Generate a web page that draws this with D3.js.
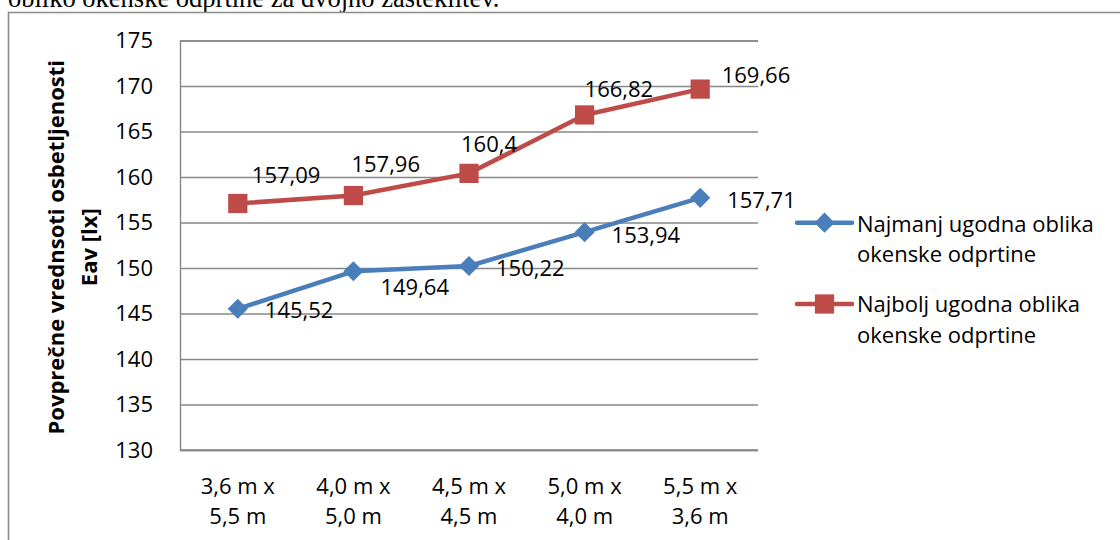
<!DOCTYPE html>
<html>
<head>
<meta charset="utf-8">
<script src="https://cdn.jsdelivr.net/npm/d3@7"></script>
<style>
  html, body { margin: 0; padding: 0; background: #fff; }
  svg { display: block; }
</style>
</head>
<body>
<svg id="chart" width="1120" height="540"></svg>
<script>
// Room dimensions (categories) and average illuminance Eav [lx] per window shape
const categories = [
  ["3,6 m x", "5,5 m"],
  ["4,0 m x", "5,0 m"],
  ["4,5 m x", "4,5 m"],
  ["5,0 m x", "4,0 m"],
  ["5,5 m x", "3,6 m"]
];
const seriesNames = [
  ["Najmanj ugodna oblika", "okenske odprtine"],
  ["Najbolj ugodna oblika", "okenske odprtine"]
];
const leastFavourable = [145.52, 149.64, 150.22, 153.94, 157.71];
const mostFavourable = [157.09, 157.96, 160.4, 166.82, 169.66];
const yTicks = [130, 135, 140, 145, 150, 155, 160, 165, 170, 175];

// Data-label placement: [left edge offset from point, vertical centre offset]
const labelNudgeBlue = [[27, 1.5], [27, 16], [27, 2], [27, 3], [27, 2]];
const labelNudgeRed = [[14, -28], [-2, -32], [-8, -29], [0, -26], [21.5, -14]];

const FONT = "'Open Sans', 'Noto Sans', sans-serif";
const FS = 22;
const BLUE = "#4A7EBB";
const RED = "#BE4B48";
const GRID = "#878787";

const svg = d3.select("#chart");

// Caption line of the surrounding document, partly cut off by the page top
svg.append("text")
  .attr("x", 8).attr("y", 7)
  .attr("font-family", "'Liberation Serif', 'Times New Roman', serif")
  .attr("font-size", 26.5)
  .attr("fill", "#000")
  .text("obliko okenske odprtine za dvojno zasteklitev.");

// Chart frame
svg.append("path")
  .attr("d", "M8.5,540 L8.5,12.5 L1120,12.5")
  .attr("fill", "none")
  .attr("stroke", "#8c8c8c")
  .attr("stroke-width", 1.6);

const plot = { left: 180, right: 758, top: 40.5, bottom: 450 };

const x = d3.scaleBand()
  .domain(d3.range(categories.length))
  .range([plot.left, plot.right]);

const y = d3.scaleLinear()
  .domain([130, 175])
  .range([plot.bottom, plot.top]);

const cx = i => x(i) + x.bandwidth() / 2;

// Horizontal gridlines + y tick labels
const yAxis = d3.axisLeft(y)
  .tickValues(yTicks)
  .tickSize(-(plot.right - plot.left))
  .tickPadding(27)
  .tickFormat(d3.format("d"));

const gy = svg.append("g")
  .attr("transform", `translate(${plot.left},0)`)
  .call(yAxis);
gy.select(".domain").attr("stroke", GRID).attr("stroke-width", 1.4);
gy.selectAll(".tick line").attr("stroke", GRID).attr("stroke-width", 1.4);
gy.selectAll(".tick text")
  .attr("font-family", FONT)
  .attr("font-size", FS)
  .attr("fill", "#000");

// Bottom axis line
svg.append("line")
  .attr("x1", plot.left).attr("x2", plot.right)
  .attr("y1", y(130)).attr("y2", y(130))
  .attr("stroke", GRID).attr("stroke-width", 1.4);

// Two-line category labels
const gx = svg.append("g");
categories.forEach((lines, i) => {
  const t = gx.append("text")
    .attr("text-anchor", "middle")
    .attr("font-family", FONT)
    .attr("font-size", FS)
    .attr("fill", "#000");
  lines.forEach((ln, k) => {
    t.append("tspan").attr("x", cx(i)).attr("y", 494 + k * 30).text(ln);
  });
});

// Y axis title
const yTitle = svg.append("text")
  .attr("transform", `translate(0,${(plot.top + plot.bottom) / 2 + 2}) rotate(-90)`)
  .attr("text-anchor", "middle")
  .attr("font-family", FONT)
  .attr("font-size", FS)
  .attr("font-weight", "bold")
  .attr("fill", "#000");
yTitle.append("tspan").attr("x", 0).attr("y", 64).text("Povprečne vrednsoti osbetljenosti");
yTitle.append("tspan").attr("x", 0).attr("y", 97).text("Eav [lx]");

const line = d3.line().x((d, i) => cx(i)).y(d => y(d));

const diamond = d3.symbol().type(d3.symbolDiamond2).size(260);
const square = d3.symbol().type(d3.symbolSquare).size(370);

function drawSeries(values, color, symbolGen, nudges) {
  svg.append("path")
    .datum(values)
    .attr("d", line)
    .attr("fill", "none")
    .attr("stroke", color)
    .attr("stroke-width", 4.5)
    .attr("stroke-linejoin", "round");

  svg.append("g").selectAll("path")
    .data(values)
    .join("path")
    .attr("transform", (d, i) => `translate(${cx(i)},${y(d)})`)
    .attr("d", symbolGen)
    .attr("fill", color);

  svg.append("g").selectAll("text")
    .data(values)
    .join("text")
    .attr("x", (d, i) => cx(i) + nudges[i][0])
    .attr("y", (d, i) => y(d) + nudges[i][1] + 8)
    .attr("font-family", FONT)
    .attr("font-size", FS)
    .attr("fill", "#000")
    .text(d => String(d).replace(".", ","));
}

drawSeries(leastFavourable, BLUE, diamond, labelNudgeBlue);
drawSeries(mostFavourable, RED, square, labelNudgeRed);

// Legend
const legend = [
  { color: BLUE, symbol: diamond, lineY: 222.7, textY: 231.7, names: seriesNames[0] },
  { color: RED, symbol: square, lineY: 304, textY: 312, names: seriesNames[1] }
];
legend.forEach(item => {
  svg.append("line")
    .attr("x1", 797).attr("x2", 852)
    .attr("y1", item.lineY).attr("y2", item.lineY)
    .attr("stroke", item.color).attr("stroke-width", 4.5)
    .attr("stroke-linecap", "round");
  svg.append("path")
    .attr("transform", `translate(824.5,${item.lineY})`)
    .attr("d", item.symbol)
    .attr("fill", item.color);
  const t = svg.append("text")
    .attr("font-family", FONT)
    .attr("font-size", FS)
    .attr("fill", "#000");
  item.names.forEach((n, k) => {
    t.append("tspan").attr("x", 857).attr("y", item.textY + k * 30.5).text(n);
  });
});
</script>
</body>
</html>
